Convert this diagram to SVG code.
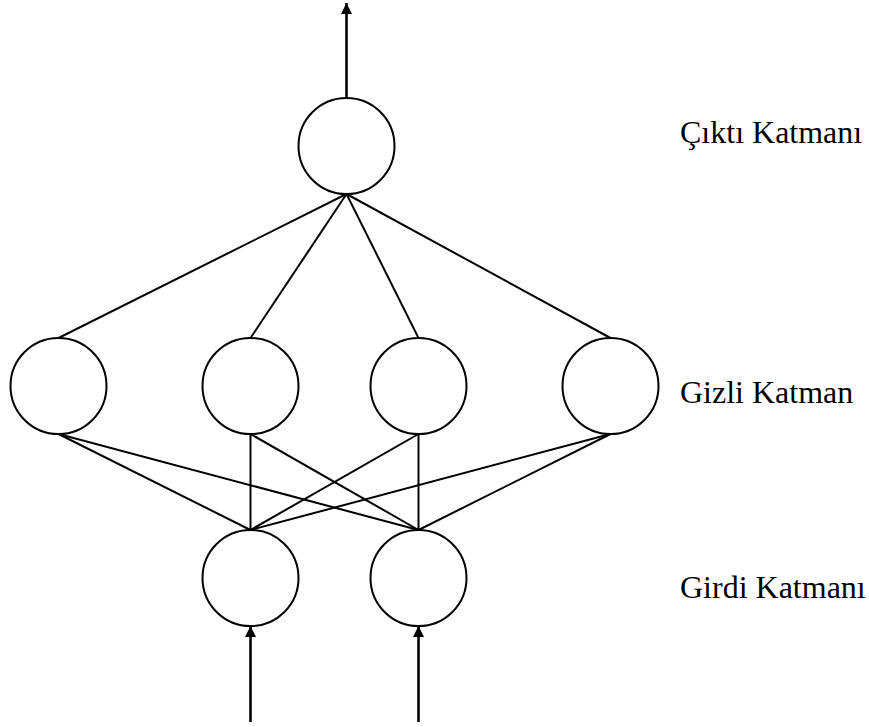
<svg xmlns="http://www.w3.org/2000/svg" width="869" height="727" viewBox="0 0 869 727">
  <style>
    .node { fill: #ffffff; stroke: #000000; stroke-width: 2; }
    .link { stroke: #000000; stroke-width: 2; fill: none; }
    .flow { stroke: #000000; stroke-width: 2.6; fill: none; }
    .label { font-family: "Liberation Serif", "Times New Roman", serif; font-size: 32px; fill: #000000; }
  </style>
  <defs>
    <marker id="head" viewBox="0 0 10 10" refX="10" refY="5" markerWidth="11" markerHeight="11" markerUnits="userSpaceOnUse" orient="auto">
      <path d="M0,0 L10,5 L0,10 Z" fill="#000000"/>
    </marker>
  </defs>
  <rect width="869" height="727" fill="#ffffff"/>

  <!-- connectors: input -> hidden, hidden -> output, and the signal arrows -->
  <g id="connectors">
    <line class="link" x1="58.5" y1="434" x2="250.5" y2="530"/>
    <line class="link" x1="58.5" y1="434" x2="418.5" y2="530"/>
    <line class="link" x1="250.5" y1="434" x2="250.5" y2="530"/>
    <line class="link" x1="250.5" y1="434" x2="418.5" y2="530"/>
    <line class="link" x1="418.5" y1="434" x2="250.5" y2="530"/>
    <line class="link" x1="418.5" y1="434" x2="418.5" y2="530"/>
    <line class="link" x1="610.5" y1="434" x2="250.5" y2="530"/>
    <line class="link" x1="610.5" y1="434" x2="418.5" y2="530"/>

    <line class="link" x1="346.5" y1="194" x2="58.5" y2="338"/>
    <line class="link" x1="346.5" y1="194" x2="250.5" y2="338"/>
    <line class="link" x1="346.5" y1="194" x2="418.5" y2="338"/>
    <line class="link" x1="346.5" y1="194" x2="610.5" y2="338"/>

    <line class="flow" x1="346.5" y1="98" x2="346.5" y2="3" marker-end="url(#head)"/>
    <line class="flow" x1="250.5" y1="722" x2="250.5" y2="626" marker-end="url(#head)"/>
    <line class="flow" x1="418.5" y1="722" x2="418.5" y2="626" marker-end="url(#head)"/>
  </g>

  <!-- output layer -->
  <g id="output-node">
    <circle class="node" cx="346.5" cy="146" r="48"/>
  </g>

  <!-- hidden layer -->
  <g id="hidden-node-1">
    <circle class="node" cx="58.5" cy="386" r="48"/>
  </g>
  <g id="hidden-node-2">
    <circle class="node" cx="250.5" cy="386" r="48"/>
  </g>
  <g id="hidden-node-3">
    <circle class="node" cx="418.5" cy="386" r="48"/>
  </g>
  <g id="hidden-node-4">
    <circle class="node" cx="610.5" cy="386" r="48"/>
  </g>

  <!-- input layer -->
  <g id="input-node-1">
    <circle class="node" cx="250.5" cy="578" r="48"/>
  </g>
  <g id="input-node-2">
    <circle class="node" cx="418.5" cy="578" r="48"/>
  </g>

  <!-- layer captions -->
  <g id="captions">
    <text class="label" x="680" y="143">Çıktı Katmanı</text>
    <text class="label" x="680" y="403">Gizli Katman</text>
    <text class="label" x="680" y="598">Girdi Katmanı</text>
  </g>
</svg>
